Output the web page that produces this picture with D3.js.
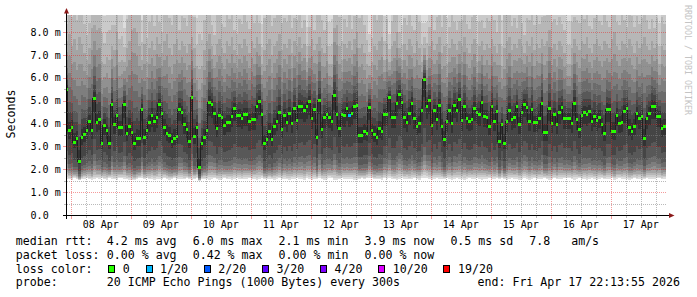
<!DOCTYPE html>
<html><head><meta charset="utf-8">
<script src="https://cdn.jsdelivr.net/npm/d3@7/dist/d3.min.js"></script>
<style>
html,body{margin:0;padding:0;background:#fff;}
svg{display:block;}
text{font-family:"DejaVu Sans Mono",monospace;white-space:pre;}
</style></head><body>
<svg id="c" width="697" height="297"></svg>
<script>
// ---- data (ms), one value per 1 h step, starting Apr 7 22:00 UTC ----
const median = [
5.5,3.7,3.85,3.2,3.35,2.37,3.4,3.55,3.7,4.1,3.7,5.1,4.07,4.2,3.15,3.95,3.7,3.15,4.85,4.0,4.37,3.85,3.85,4.85,
3.6,3.9,3.65,3.15,3.35,3.35,4.65,3.4,3.7,4.07,4.37,4.1,4.28,4.85,4.46,3.85,3.6,3.5,3.25,3.38,3.45,4.65,4.5,3.98,
3.75,3.25,5.17,3.45,3.85,2.1,3.15,3.4,3.7,4.95,4.85,4.46,3.8,4.37,4.28,3.94,4.07,4.07,4.33,4.68,4.37,4.37,4.26,4.4,
4.4,4.13,4.2,4.2,4.77,4.99,4.42,3.14,3.33,3.68,3.33,3.91,4.11,4.51,3.75,4.36,4.06,4.45,4.01,4.68,4.16,4.77,4.77,4.6,
4.77,4.99,4.26,4.64,3.41,5.05,3.75,4.3,4.4,4.28,4.13,5.25,4.42,3.82,4.42,4.37,4.67,4.37,4.48,4.77,4.81,3.5,3.5,3.68,
3.6,4.74,3.72,3.53,3.4,3.79,3.68,4.42,4.42,5.15,4.3,4.3,4.92,5.3,4.93,4.28,4.07,4.45,4.92,4.26,3.91,4.04,4.6,5.95,
4.77,5.03,3.93,4.6,4.19,4.8,3.91,3.31,4.1,4.6,4.04,4.81,4.6,5.08,4.16,4.77,4.23,4.13,4.19,4.68,4.49,4.4,4.96,4.35,
4.3,3.91,4.77,4.13,4.57,3.25,3.98,3.16,4.11,4.6,4.19,4.28,4.77,3.97,4.49,4.86,4.74,4.13,4.63,4.06,4.06,4.26,4.92,3.62,
3.62,4.7,4.04,4.42,3.97,4.52,4.71,4.23,4.23,4.23,4.01,4.92,4.19,3.76,4.37,4.49,4.42,4.55,4.13,4.33,4.16,4.3,3.97,3.6,
4.63,4.63,3.69,3.69,4.39,4.04,4.08,4.57,4.67,3.86,3.68,3.91,4.45,4.23,4.33,3.36,4.23,4.48,4.78,4.78,4.35,4.35,3.82,3.9
];
// lowest ping per step (ms)
const lowest = [
1.56,1.58,1.55,1.6,1.57,1.52,1.56,1.59,1.62,1.57,1.54,1.56,1.6,1.58,1.63,1.57,1.55,1.6,1.58,1.56,1.54,1.6,1.62,1.58,
1.57,1.55,1.53,1.54,1.58,1.6,1.62,1.57,1.6,1.56,1.58,1.55,1.57,1.59,1.56,1.6,1.58,1.55,1.57,1.6,1.58,1.56,1.59,1.57,
1.6,1.57,1.55,1.58,1.6,1.5,1.56,1.59,1.57,1.55,1.58,1.6,1.57,1.55,1.58,1.6,1.56,1.58,1.55,1.57,1.6,1.58,1.56,1.59,
1.57,1.6,1.56,1.58,1.55,1.57,1.61,1.58,1.56,1.59,1.57,1.55,1.58,1.6,1.56,1.58,1.57,1.55,1.59,1.57,1.6,1.56,1.58,1.55,
1.6,1.57,1.55,1.58,1.56,1.6,1.57,1.55,1.58,1.62,1.6,1.54,1.53,1.57,1.6,1.58,1.56,1.59,1.57,1.55,1.53,1.58,1.6,1.57,
1.62,1.6,1.61,1.57,1.59,1.56,1.55,1.6,1.58,1.6,1.57,1.56,1.54,1.58,1.6,1.57,1.59,1.56,1.58,1.6,1.57,1.55,1.62,1.64,
1.64,1.57,1.55,1.58,1.6,1.56,1.58,1.57,1.61,1.58,1.55,1.57,1.6,1.56,1.58,1.55,1.57,1.6,1.58,1.56,1.6,1.57,1.55,1.58,
1.57,1.6,1.56,1.58,1.6,1.57,1.62,1.58,1.55,1.57,1.6,1.58,1.56,1.55,1.58,1.6,1.57,1.55,1.58,1.6,1.56,1.58,1.57,1.6,
1.58,1.54,1.57,1.6,1.56,1.58,1.57,1.6,1.61,1.6,1.57,1.55,1.58,1.6,1.56,1.57,1.55,1.58,1.6,1.57,1.55,1.58,1.6,1.57,
1.56,1.58,1.6,1.54,1.57,1.6,1.58,1.56,1.57,1.55,1.58,1.6,1.56,1.58,1.55,1.57,1.6,1.58,1.56,1.58,1.6,1.61,1.57,1.58
];
// 17th of 20 sorted pings per step (ms)
const upper = [
7.6,7.9,7.4,7.7,7.2,7.8,7.5,7.1,6.8,7.3,8.2,8.3,8.1,8.2,6.7,6.6,6.9,6.8,7.4,7.2,8.0,6.7,6.8,6.7,
7.3,7.6,8.1,8.2,8.0,7.4,6.8,7.5,6.7,7.3,7.6,7.2,7.8,7.5,7.1,7.6,7.9,7.3,7.0,7.5,7.7,7.2,7.6,7.4,
7.1,7.5,7.8,7.3,6.5,6.4,6.5,7.2,7.6,7.9,7.4,7.0,7.5,7.7,7.3,7.1,7.6,7.4,7.8,7.2,7.0,7.5,7.3,7.7,
7.4,7.1,7.6,7.3,7.8,7.5,6.6,7.2,7.5,7.7,7.0,7.4,7.6,7.9,7.2,7.5,7.3,7.7,7.1,7.6,7.4,7.8,7.3,7.5,
6.7,7.4,7.7,7.2,7.5,7.8,7.3,7.1,7.4,6.6,6.6,8.2,8.3,7.4,6.8,7.5,7.3,7.6,7.2,7.7,8.0,7.3,7.5,7.1,
6.6,6.5,6.7,7.4,7.2,7.6,7.8,6.8,7.5,6.7,7.4,7.6,8.0,7.3,6.8,7.5,7.2,7.7,7.4,7.1,7.6,7.3,6.7,7.3,
6.8,7.4,7.6,7.2,7.5,7.8,7.1,7.4,6.6,7.3,7.7,7.5,7.2,7.6,7.4,7.8,7.3,7.1,7.5,7.7,6.7,7.4,7.6,7.2,
7.5,7.3,7.7,7.4,7.1,7.5,6.5,7.3,7.6,7.8,7.2,7.5,7.3,7.7,7.4,7.1,7.6,7.4,7.8,7.2,7.5,7.3,7.7,7.4,
7.6,8.1,7.3,7.5,7.2,7.6,7.4,7.1,6.6,6.6,7.3,7.7,7.4,7.2,7.6,7.5,7.8,7.3,7.1,7.5,7.7,7.4,7.2,7.6,
7.5,7.3,7.7,8.0,7.4,7.2,7.6,7.5,7.3,7.7,7.4,7.1,7.6,7.3,7.5,7.8,7.4,7.2,7.6,7.3,7.5,6.6,7.4,7.2
];
// steps with lost pings
const lossSteps = [113];
const lossCounts = [1];

const yTicks = [0,1,2,3,4,5,6,7,8];
const dayLabels = ["08 Apr","09 Apr","10 Apr","11 Apr","12 Apr","13 Apr","14 Apr","15 Apr","16 Apr","17 Apr"];
const lossLevels = [0,1,2,3,4,10,19];
const lossLabels = ["0","1/20","2/20","3/20","4/20","10/20","19/20"];
const lossColors = ["#26ff00","#00b8ff","#0059ff","#5e00ff","#7e00ff","#dd00ff","#ff0000"];
const rttStats = ["4.2 ms avg","6.0 ms max","2.1 ms min","3.9 ms now","0.5 ms sd","7.8   am/s"];
const lossStats = ["0.00 % avg","0.42 % max","0.00 % min","0.00 % now"];
const probeText = "20 ICMP Echo Pings (1000 Bytes) every 300s";
const endText = "end: Fri Apr 17 22:13:55 2026";

// ---- layout ----
const W = 697, H = 297;
const tStart = Date.UTC(2026,3,7,22,13,55), tEnd = Date.UTC(2026,3,17,22,13,55);
const firstStep = Date.UTC(2026,3,7,22,0,0), stepMs = 3600e3;
const X0 = 66.3, X1 = 666.3, Y0 = 215, Y1 = 15;
const x = d3.scaleUtc().domain([new Date(tStart), new Date(tEnd)]).range([X0, X1]);
const y = d3.scaleLinear().domain([0, 8.75]).range([Y0, Y1]);

const svg = d3.select('#c');
svg.append('rect').attr('width', W).attr('height', H).attr('fill', '#fff');
svg.append('defs').append('clipPath').attr('id','plot')
  .append('rect').attr('x',67).attr('y',Y1).attr('width',X1-67).attr('height',Y0-Y1);
const plot = svg.append('g').attr('clip-path','url(#plot)').attr('shape-rendering','crispEdges');

// smoke profile (fraction of the way from lowest to median, and from median to upper)
const lowFrac = [0,0.027,0.057,0.087,0.125,0.17,0.23,0.31,0.5,0.82];
const upFrac = [0.09,0.19,0.3,0.45,0.6,0.78,1.0,1.35,1.8,2.6];
const greys = d3.range(10).map(k => Math.floor(190/10*(10-(k+1))) + 50);

const lossOf = i => { const j = lossSteps.indexOf(i); return j < 0 ? 0 : lossCounts[j]; };
const colorOf = c => { let k = 0; lossLevels.forEach((l, j) => { if (c >= l) k = j; }); return lossColors[k]; };

const steps = median.map((m, i) => {
  const a = firstStep + i*stepMs;
  const pings = lowFrac.map(f => lowest[i] + (m - lowest[i])*f)
    .concat(upFrac.map(f => m + (upper[i] - m)*f));
  return {i, m, x0: Math.round(x(new Date(a))), x1: Math.round(x(new Date(a + stepMs))), pings, loss: lossOf(i)};
});

// smoke bands, outer (light) first
greys.forEach((g, k) => {
  plot.append('g').selectAll('rect').data(steps).join('rect')
    .attr('x', d => d.x0).attr('width', d => d.x1 - d.x0)
    .attr('y', d => Math.round(y(d.pings[19-k])))
    .attr('height', d => Math.round(y(d.pings[k])) - Math.round(y(d.pings[19-k])))
    .attr('fill', d3.rgb(g,g,g).formatHex());
});

// median step line
const pts = [];
steps.forEach(s => { const yy = Math.round(y(s.m)) + 0.5; pts.push([s.x0 - 0.5, yy], [s.x1 - 0.5, yy]); });
plot.append('path').attr('d', d3.line()(pts)).attr('fill','none').attr('stroke','#202020').attr('stroke-width',1);

// median markers coloured by loss
plot.append('g').selectAll('rect').data(steps).join('rect')
  .attr('x', d => d.x0).attr('width', d => d.x1 - d.x0)
  .attr('y', d => Math.round(y(d.m)) - 1).attr('height', 3)
  .attr('fill', d => colorOf(d.loss));

// ---- grid ----
const grid = svg.append('g').attr('shape-rendering','crispEdges');
const minorCol = 'rgba(130,130,130,0.55)', majorCol = 'rgba(230,30,30,0.45)';
const minorY = d3.range(0.5, 8.75, 1);
minorY.forEach(v => {
  const yy = Math.round(y(v)) + 0.5;
  grid.append('line').attr('x1',67).attr('x2',X1).attr('y1',yy).attr('y2',yy)
    .attr('stroke',minorCol).attr('stroke-dasharray','1,1');
  grid.append('line').attr('x1',64).attr('x2',66).attr('y1',yy).attr('y2',yy).attr('stroke',minorCol);
});
yTicks.filter(v => v > 0).forEach(v => {
  const yy = Math.round(y(v)) + 0.5;
  grid.append('line').attr('x1',67).attr('x2',X1).attr('y1',yy).attr('y2',yy)
    .attr('stroke',majorCol).attr('stroke-dasharray','1,1');
});
yTicks.forEach(v => {
  const yy = Math.round(y(v)) + 0.5;
  grid.append('line').attr('x1',63).attr('x2',66).attr('y1',yy).attr('y2',yy).attr('stroke',majorCol);
});
const minorX = d3.utcHour.every(6).range(new Date(tStart), new Date(tEnd)).filter(d => d.getUTCHours() !== 0);
const majorX = d3.utcDay.range(new Date(tStart), new Date(tEnd));
minorX.forEach(d => {
  const xx = Math.round(x(d)) + 0.5;
  grid.append('line').attr('x1',xx).attr('x2',xx).attr('y1',Y1).attr('y2',Y0)
    .attr('stroke',minorCol).attr('stroke-dasharray','1,1');
  grid.append('line').attr('x1',xx).attr('x2',xx).attr('y1',Y0+1).attr('y2',Y0+3).attr('stroke',minorCol);
});
majorX.forEach(d => {
  const xx = Math.round(x(d)) + 0.5;
  grid.append('line').attr('x1',xx).attr('x2',xx).attr('y1',Y1).attr('y2',Y0)
    .attr('stroke',majorCol).attr('stroke-dasharray','1,1');
  grid.append('line').attr('x1',xx).attr('x2',xx).attr('y1',Y0+1).attr('y2',Y0+4).attr('stroke',majorCol);
});

// ---- axes ----
const ax = svg.append('g').attr('shape-rendering','crispEdges');
ax.append('line').attr('x1',63).attr('x2',670).attr('y1',Y0+0.5).attr('y2',Y0+0.5).attr('stroke','#000');
ax.append('line').attr('x1',66.5).attr('x2',66.5).attr('y1',219).attr('y2',12).attr('stroke','#000');
svg.append('path').attr('d','M64,13.5L69,13.5L66.5,8Z').attr('fill','#8b1a1a');
svg.append('path').attr('d','M669,213L669,218L674.5,215.5Z').attr('fill','#8b1a1a');

// y labels
svg.append('g').selectAll('text').data(yTicks).join('text')
  .attr('x', v => v === 0 ? 60.7 - 12.04 : 60.7)
  .attr('y', v => y(v) + 3.6)
  .attr('text-anchor','end').attr('font-size','10px').attr('fill','#000')
  .text(v => v === 0 ? v.toFixed(1) : v.toFixed(1) + ' m');

// x labels at noon
svg.append('g').selectAll('text').data(dayLabels).join('text')
  .attr('x', (d, i) => x(new Date(Date.UTC(2026,3,8+i,12))))
  .attr('y', 227.5).attr('text-anchor','middle').attr('font-size','10px').attr('fill','#000')
  .text(d => d);

// axis title
svg.append('text').attr('transform','translate(15,114) rotate(-90)')
  .attr('text-anchor','middle').attr('font-size','11.6px').attr('fill','#000').text('Seconds');

// watermark
svg.append('text').attr('transform','translate(684.5,5) rotate(90)')
  .attr('font-size','8.3px').attr('fill','#c4c4c4').text('RRDTOOL / TOBI OETIKER');

// ---- legend ----
const LF = 11.6, CW = 7.0, LX = 15.8, VX = 106.8, GAP = 15.9;
const lg = svg.append('g').attr('font-size', LF + 'px').attr('fill','#000');
const rows = [245, 258.8, 272.6, 286.4];
const placeItems = (arr, row) => {
  let px = VX;
  arr.forEach(s => { lg.append('text').attr('x', px).attr('y', row).text(s); px += s.length*CW + GAP; });
};
lg.append('text').attr('x',LX).attr('y',rows[0]).text('median rtt:');
placeItems(rttStats, rows[0]);
lg.append('text').attr('x',LX).attr('y',rows[1]).text('packet loss:');
placeItems(lossStats, rows[1]);
lg.append('text').attr('x',LX).attr('y',rows[2]).text('loss color:');
let lx = VX;
lossLabels.forEach((lab, j) => {
  svg.append('rect').attr('x', Math.round(lx + 1.5) + 0.5).attr('y', 265.5).attr('width',6).attr('height',7)
    .attr('fill', lossColors[j]).attr('stroke','#000').attr('stroke-width',1).attr('shape-rendering','crispEdges');
  lg.append('text').attr('x', lx + 16).attr('y', rows[2]).text(lab);
  lx += 30.2 + lab.length*CW;
});
lg.append('text').attr('x',LX).attr('y',rows[3]).text('probe:');
lg.append('text').attr('x',VX).attr('y',rows[3]).text(probeText);
lg.append('text').attr('x',477.5).attr('y',rows[3]).text(endText);
</script>
</body></html>
